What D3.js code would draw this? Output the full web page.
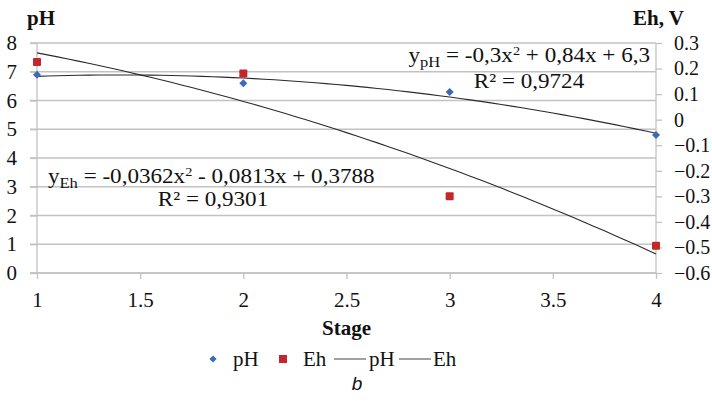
<!DOCTYPE html>
<html>
<head>
<meta charset="utf-8">
<script src="https://cdn.jsdelivr.net/npm/d3@7"></script>
<style>
  body { margin: 0; background: #fff; }
</style>
</head>
<body>
<script>
// data
const stages = [1, 2, 3, 4];
const phValues = [6.9, 6.6, 6.3, 4.8];
const ehValues = [0.226, 0.181, -0.30, -0.493];
const xTicks = [1, 1.5, 2, 2.5, 3, 3.5, 4];
const phTicks = [0, 1, 2, 3, 4, 5, 6, 7, 8];
const ehTicks = [0.3, 0.2, 0.1, 0, -0.1, -0.2, -0.3, -0.4, -0.5, -0.6];
// trendline coefficients as printed on the chart (a, b, c for ax^2 + bx + c)
const phTrend = [-0.3, 0.84, 6.3];
const ehTrend = [-0.0362, -0.0813, 0.3788];

const serif = '"Liberation Serif", "Times New Roman", serif';
const width = 712, height = 401;
const margin = {left: 37, right: 56, top: 43, bottom: 128};
const grid = '#c2c2c2';
const blue = '#3a6bb5';
const red = '#c4262d';

const svg = d3.select('body').append('svg')
  .attr('width', width)
  .attr('height', height);

const x = d3.scaleLinear().domain([1, 4]).range([margin.left, width - margin.right]);
const yPh = d3.scaleLinear().domain([0, 8]).range([height - margin.bottom, margin.top]);
const yEh = d3.scaleLinear().domain([-0.6, 0.3]).range([height - margin.bottom, margin.top]);

// plain text helper
const label = (px, py, str, size, opts = {}) => svg.append('text')
  .attr('x', px).attr('y', py)
  .attr('text-anchor', opts.anchor || 'start')
  .style('font-family', opts.family || serif)
  .style('font-size', size + 'px')
  .style('font-weight', opts.weight || 'normal')
  .style('font-style', opts.italic ? 'italic' : 'normal')
  .attr('fill', '#111')
  .text(str);

// horizontal gridlines
svg.append('g')
  .selectAll('line')
  .data(phTicks)
  .enter().append('line')
  .attr('x1', x(1) - 7)
  .attr('x2', x(4))
  .attr('y1', d => yPh(d))
  .attr('y2', d => yPh(d))
  .attr('stroke', grid)
  .attr('stroke-width', 1.3);

// axes
const leftAxis = svg.append('g')
  .attr('transform', `translate(${x(1)},0)`)
  .call(d3.axisLeft(yPh).tickValues(phTicks).tickSize(7).tickPadding(13).tickFormat(d3.format('d')));

const rightAxis = svg.append('g')
  .attr('transform', `translate(${x(4)},0)`)
  .call(d3.axisRight(yEh).tickValues(ehTicks).tickSize(6).tickPadding(12).tickFormat(d => d === 0 ? '0' : d3.format('.1f')(d)));

const bottomAxis = svg.append('g')
  .attr('transform', `translate(0,${yPh(0)})`)
  .call(d3.axisBottom(x).tickValues(xTicks).tickSize(6).tickPadding(13).tickFormat(d => d % 1 === 0 ? d3.format('d')(d) : d3.format('.1f')(d)));

[leftAxis, rightAxis, bottomAxis].forEach(a => {
  a.selectAll('.domain').attr('stroke', grid).attr('stroke-width', 1.3);
  a.selectAll('.tick line').attr('stroke', grid).attr('stroke-width', 1.3);
  a.selectAll('.tick text')
    .style('font-family', serif)
    .style('font-size', '21px')
    .attr('fill', '#111');
});
rightAxis.selectAll('.tick text').style('font-size', '20px');
leftAxis.select('.domain').attr('d', `M0,${yPh(8)}V${yPh(0)}`);
rightAxis.select('.domain').attr('d', `M0,${yEh(0.3)}V${yEh(-0.6)}`);
bottomAxis.select('.domain').attr('d', `M${x(1) - 7},0H${x(4)}`);
bottomAxis.selectAll('.tick text').attr('dy', '0.72em');

// trendlines
const quad = c => v => c[0] * v * v + c[1] * v + c[2];
const xs = d3.range(1, 4.001, 0.05);
const trendLine = (scale, c) => d3.line()
  .x(d => x(d))
  .y(d => scale(quad(c)(d)))(xs);

[[yPh, phTrend], [yEh, ehTrend]].forEach(([scale, c]) => {
  svg.append('path')
    .attr('d', trendLine(scale, c))
    .attr('fill', 'none')
    .attr('stroke', '#2a2a2a')
    .attr('stroke-width', 1.1);
});

// markers
const diamond = r => `M0,${-r}L${r},0L0,${r}L${-r},0Z`;

svg.selectAll('.ph')
  .data(stages)
  .enter().append('path')
  .attr('class', 'ph')
  .attr('d', diamond(4))
  .attr('transform', (d, i) => `translate(${x(d)},${yPh(phValues[i])})`)
  .attr('fill', blue);

svg.selectAll('.eh')
  .data(stages)
  .enter().append('rect')
  .attr('class', 'eh')
  .attr('x', d => x(d) - 4)
  .attr('y', (d, i) => yEh(ehValues[i]) - 4)
  .attr('width', 8)
  .attr('height', 8)
  .attr('rx', 1)
  .attr('fill', red);

// axis titles
label(27, 25, 'pH', 21, {weight: 'bold'});
label(684, 25, 'Eh, V', 21, {weight: 'bold', anchor: 'end'});
label((x(1) + x(4)) / 2, 335, 'Stage', 21, {weight: 'bold', anchor: 'middle'});

// trendline equations (the reference text is slightly stretched sideways)
const sx = 1.1;
const equation = (px, py, anchor, sub, first, rest) => {
  const g = svg.append('g').attr('transform', `translate(${px},${py}) scale(${sx},1)`);
  const t = g.append('text')
    .attr('text-anchor', anchor)
    .style('font-family', serif)
    .style('font-size', '21px')
    .attr('fill', '#111');
  t.append('tspan').text('y');
  t.append('tspan').attr('dy', 5).style('font-size', '15px').text(sub);
  t.append('tspan').attr('dy', -5).text(first);
  t.append('tspan').attr('dy', -7).style('font-size', '13px').text('2');
  t.append('tspan').attr('dy', 7).text(rest);
};
const rSquared = (px, py, str) => svg.append('g')
  .attr('transform', `translate(${px},${py}) scale(${sx},1)`)
  .append('text')
  .attr('text-anchor', 'middle')
  .style('font-family', serif)
  .style('font-size', '21px')
  .attr('fill', '#111')
  .text(str);

equation(650, 62, 'end', 'pH', ' = -0,3x', ' + 0,84x + 6,3');
rSquared(529, 88, 'R² = 0,9724');
equation(48, 183, 'start', 'Eh', ' = -0,0362x', ' - 0,0813x + 0,3788');
rSquared(213, 206, 'R² = 0,9301');

// legend
const ly = 359;
svg.append('path')
  .attr('d', diamond(3.6))
  .attr('transform', `translate(213,${ly})`)
  .attr('fill', blue);
label(233, ly + 7, 'pH', 21);
svg.append('rect')
  .attr('x', 279).attr('y', ly - 4).attr('width', 8).attr('height', 8)
  .attr('fill', red);
label(303, ly + 7, 'Eh', 21);
svg.append('line')
  .attr('x1', 334).attr('x2', 366).attr('y1', ly).attr('y2', ly)
  .attr('stroke', '#8a8a8a').attr('stroke-width', 1.6);
label(369, ly + 7, 'pH', 21);
svg.append('line')
  .attr('x1', 399).attr('x2', 431).attr('y1', ly).attr('y2', ly)
  .attr('stroke', '#8a8a8a').attr('stroke-width', 1.6);
label(433, ly + 7, 'Eh', 21);

label(357, 390, 'b', 19, {family: '"Liberation Sans", Arial, sans-serif', italic: true, anchor: 'middle'});
</script>
</body>
</html>
